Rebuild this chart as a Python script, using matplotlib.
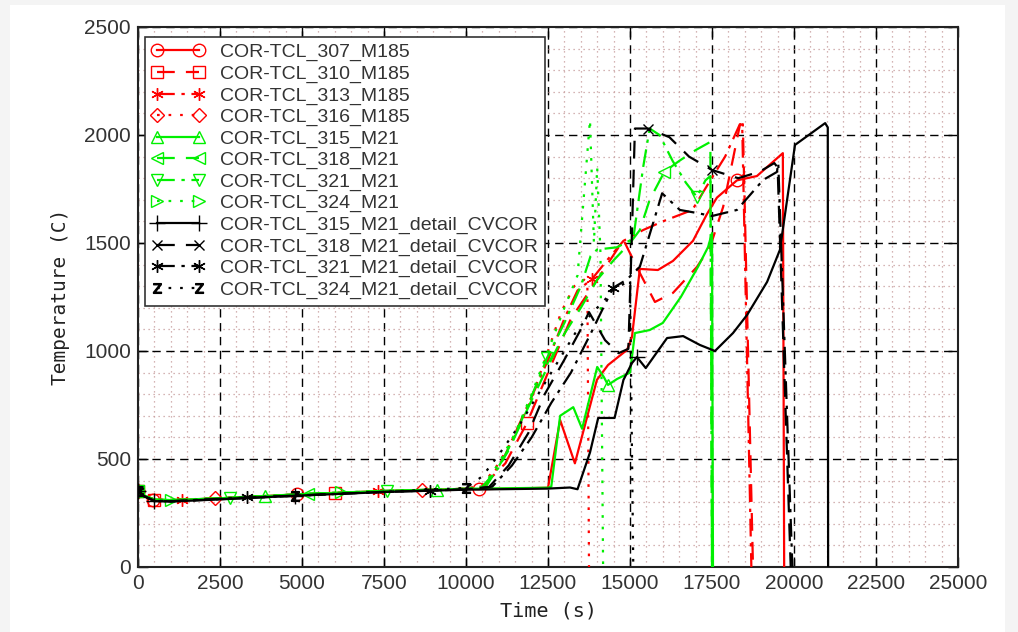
import numpy as np
import matplotlib
matplotlib.use("Agg")
import matplotlib.pyplot as plt
from matplotlib.patches import Rectangle
from matplotlib.ticker import MultipleLocator

# ---- series data: time (s) and temperature (C) ----
t_307 = [0, 150, 450, 1000, 2500, 4850, 7500, 10000, 10400, 12500, 12870, 13320, 13990, 14330,
         14910, 15060, 15300, 15850, 16310, 16920, 17350, 17650, 18260, 18870, 19660, 19700]
T_307 = [352, 332, 312, 309, 318, 336, 352, 362, 360, 367, 680, 480, 866, 935,
         1005, 1065, 1380, 1375, 1417, 1510, 1635, 1710, 1790, 1810, 1916, 0]
m_307 = [0, 450, 4850, 10400, 18260]

t_310 = [0, 150, 500, 1000, 2500, 6000, 7500, 10000, 10500, 11200, 11860, 12500, 13200, 14000,
         14800, 15300, 15760, 16310, 17040, 17440, 17840, 18350, 18440, 18750]
T_310 = [350, 330, 312, 308, 318, 343, 351, 362, 372, 480, 667, 900, 1150, 1330,
         1514, 1361, 1227, 1269, 1389, 1481, 1667, 2046, 2050, 0]
m_310 = [0, 500, 6000, 11860]

t_313 = [0, 150, 500, 1340, 2500, 5000, 7320, 10000, 10600, 11200, 11800, 12500, 13000, 13400,
         13840, 14300, 14800, 15400, 16000, 16900, 17400, 17900, 18350, 18420, 18700]
T_313 = [352, 332, 312, 310, 318, 336, 350, 362, 375, 520, 720, 958, 1150, 1280,
         1333, 1420, 1510, 1560, 1600, 1653, 1778, 1900, 2050, 2050, 0]
m_313 = [0, 1340, 7320, 13840]

t_316 = [0, 150, 500, 1000, 2350, 5000, 7500, 8660, 10000, 10500, 11000, 11500, 12000, 12500,
         12900, 13300, 13600, 13700, 13750]
T_316 = [354, 334, 314, 310, 318, 337, 352, 356, 362, 380, 480, 610, 780, 1000,
         1180, 1300, 1330, 1320, 0]
m_316 = [0, 2350, 8660]

t_315 = [0, 150, 500, 1000, 2500, 3870, 5000, 7500, 9120, 10000, 12500, 12600, 12870, 13270,
         13540, 14000, 14200, 14330, 14600, 15000, 15150, 15600, 16000, 16550, 17070, 17380,
         17500, 17530]
T_315 = [352, 333, 313, 310, 318, 328, 337, 352, 358, 362, 367, 372, 700, 740,
         640, 926, 880, 843, 870, 900, 1083, 1097, 1130, 1250, 1389, 1481,
         1546, 0]
m_315 = [0, 3870, 9120, 14330]

t_318 = [0, 150, 500, 1000, 2500, 5180, 7500, 10000, 10600, 11300, 11900, 12500, 13000, 13500,
         14000, 14500, 15000, 15300, 15600, 16050, 16500, 17000, 17450, 17500]
T_318 = [351, 331, 312, 309, 318, 339, 352, 362, 370, 540, 740, 930, 1080, 1200,
         1330, 1420, 1500, 1560, 1700, 1830, 1880, 1930, 1968, 0]
m_318 = [0, 5180, 16050]

t_321 = [0, 150, 500, 1000, 2800, 5000, 7600, 10000, 10500, 11000, 11500, 12000, 12470, 13000,
         13500, 13800, 14000, 14600, 15100, 15400, 15600, 15900, 16300, 16700, 17040, 17300,
         17450, 17500]
T_321 = [351, 331, 311, 309, 320, 337, 353, 362, 372, 460, 610, 790, 968, 1130,
         1300, 1440, 1470, 1480, 1520, 1850, 2030, 2000, 1880, 1780, 1713, 1790,
         1810, 0]
m_321 = [0, 2800, 7600, 12470, 17040]

t_324 = [0, 150, 500, 1000, 2500, 6200, 7500, 10000, 10500, 11000, 11500, 12000, 12500, 13000,
         13400, 13780, 13900, 14000, 14100, 14180]
T_324 = [352, 332, 312, 309, 318, 345, 352, 362, 370, 480, 620, 800, 1000, 1200,
         1350, 2070, 1500, 1850, 1450, 0]
m_324 = [0, 1000, 6200]

t_315d = [0, 150, 500, 1000, 2500, 4800, 7500, 10000, 12500, 13170, 13400, 13780, 14030, 14530,
          14800, 15060, 15210, 15480, 16130, 16620, 17130, 17590, 18140, 18570, 19180, 19570,
          20030, 20950, 21030, 21040]
T_315d = [350, 330, 305, 303, 313, 330, 347, 358, 363, 368, 360, 530, 690, 690,
          866, 944, 972, 921, 1060, 1069, 1028, 1000, 1083, 1167, 1320, 1468,
          1954, 2055, 2035, 0]
m_315d = [0, 500, 4800, 15210]

t_318d = [0, 150, 500, 1000, 2500, 5000, 7500, 10000, 10700, 11300, 11900, 12400, 13000, 13500,
          13750, 14240, 14650, 14950, 15050, 15150, 15550, 16200, 16800, 17500, 18300, 18950,
          19400, 19500, 19900]
T_318d = [350, 330, 306, 304, 314, 331, 348, 359, 370, 470, 620, 800, 960, 1100,
          1180, 1050, 990, 1010, 1500, 2030, 2030, 1990, 1900, 1838, 1800, 1830,
          1870, 1850, 0]
m_318d = [0, 15550, 17500]

t_321d = [0, 150, 500, 1000, 3320, 5000, 7500, 8900, 10000, 10800, 11400, 12000, 12600, 13200,
          13800, 14480, 14900, 15300, 15980, 16520, 17000, 17500, 18260, 19060, 19480, 19520,
          19950]
T_321d = [350, 330, 307, 305, 322, 332, 348, 354, 359, 372, 470, 600, 760, 900,
          1080, 1292, 1330, 1390, 1730, 1653, 1640, 1625, 1653, 1792, 1829, 1870,
          0]
m_321d = [0, 3320, 8900, 14480]

t_324d = [0, 150, 500, 1000, 2500, 4800, 7500, 10000, 10500, 11000, 11600, 12200, 12800, 13400,
          14000, 14500, 15000, 15100]
T_324d = [350, 330, 306, 304, 314, 330, 348, 366, 420, 520, 650, 800, 950, 1100,
          1200, 1280, 1330, 0]
m_324d = [0, 4800, 10000]

labels = ["COR-TCL_307_M185", "COR-TCL_310_M185", "COR-TCL_313_M185", "COR-TCL_316_M185",
          "COR-TCL_315_M21", "COR-TCL_318_M21", "COR-TCL_321_M21", "COR-TCL_324_M21",
          "COR-TCL_315_M21_detail_CVCOR", "COR-TCL_318_M21_detail_CVCOR",
          "COR-TCL_321_M21_detail_CVCOR", "COR-TCL_324_M21_detail_CVCOR"]

x_ticks = [0, 2500, 5000, 7500, 10000, 12500, 15000, 17500, 20000, 22500, 25000]
y_ticks = [0, 500, 1000, 1500, 2000, 2500]

# ---- styles ----
RED, GREEN, BLACK = "#ff0000", "#00f000", "#000000"
dash = (0, (8, 5))
dashdot = (0, (8, 3, 1.5, 3))
dot = (0, (1.2, 4))
asterisk = (6, 2, 0)

series = [
    (t_307, T_307, m_307, RED, "-", "o", 9),
    (t_310, T_310, m_310, RED, dash, "s", 9),
    (t_313, T_313, m_313, RED, dashdot, asterisk, 9),
    (t_316, T_316, m_316, RED, dot, "D", 7.5),
    (t_315, T_315, m_315, GREEN, "-", "^", 9),
    (t_318, T_318, m_318, GREEN, dash, "<", 9),
    (t_321, T_321, m_321, GREEN, dashdot, "v", 9),
    (t_324, T_324, m_324, GREEN, dot, ">", 9),
    (t_315d, T_315d, m_315d, BLACK, "-", "+", 11),
    (t_318d, T_318d, m_318d, BLACK, dash, "x", 6.5),
    (t_321d, T_321d, m_321d, BLACK, dashdot, asterisk, 9),
    (t_324d, T_324d, m_324d, BLACK, dot, r"$\mathsf{Z}$", 7),
]

W, H = 1018, 632
fig = plt.figure(figsize=(W / 100, H / 100), dpi=100, facecolor="#f4f4f4")
fig.patches.append(Rectangle((10 / W, 0), (1005 - 10) / W, (H - 5) / H,
                             transform=fig.transFigure, facecolor="white",
                             edgecolor="none", zorder=-10))

ax = fig.add_axes([138 / W, 65 / H, (958 - 138) / W, (605 - 65) / H])
ax.set_zorder(5)
ax.set_facecolor("white")

for (t, T, marks, color, ls, mk, ms), lab in zip(series, labels):
    t = np.asarray(t, float)
    T = np.asarray(T, float)
    idx = [int(np.where(t == m)[0][0]) for m in marks]
    ax.plot(t, T, color=color, linestyle=ls, linewidth=1.6,
            marker=mk, markevery=idx, markersize=ms, markerfacecolor="none",
            markeredgecolor=color, markeredgewidth=1.0, label=lab, zorder=3)

ax.set_xlim(0, 25000)
ax.set_ylim(0, 2500)
ax.set_xticks(x_ticks)
ax.set_yticks(y_ticks)
ax.xaxis.set_minor_locator(MultipleLocator(500))
ax.yaxis.set_minor_locator(MultipleLocator(100))

ax.grid(which="minor", color="#c79c9c", linestyle=(0, (1, 3)), linewidth=0.9, zorder=1)
ax.grid(which="major", color="black", linestyle=(0, (6, 4)), linewidth=1.0, zorder=1)
ax.set_axisbelow(True)

ax.tick_params(which="major", direction="in", length=7, width=1, top=True, right=True,
               labelsize=15, labelcolor="#333333", pad=5)
ax.tick_params(which="minor", length=0)
for lbl in ax.get_xticklabels() + ax.get_yticklabels():
    lbl.set_family("Liberation Sans")
for sp in ax.spines.values():
    sp.set_linewidth(1.5)
    sp.set_color("#222222")

ax.set_xlabel("Time (s)", family="DejaVu Sans Mono", fontsize=14.5, color="#222222", labelpad=6)
ax.set_ylabel("Temperature (C)", family="DejaVu Sans Mono", fontsize=14, color="#222222", labelpad=10)

leg = ax.legend(loc="upper left", bbox_to_anchor=(0.008, 0.982), numpoints=2,
                prop={"family": "Liberation Sans", "size": 14},
                handlelength=2.75, handletextpad=0.8, labelspacing=0.195,
                borderpad=0.35, borderaxespad=0.0, fancybox=False, framealpha=1.0,
                edgecolor="#333333")
leg.get_frame().set_linewidth(1.2)
for txt in leg.get_texts():
    txt.set_color("#333333")

fig.savefig("out.png", dpi=100, facecolor=fig.get_facecolor())
